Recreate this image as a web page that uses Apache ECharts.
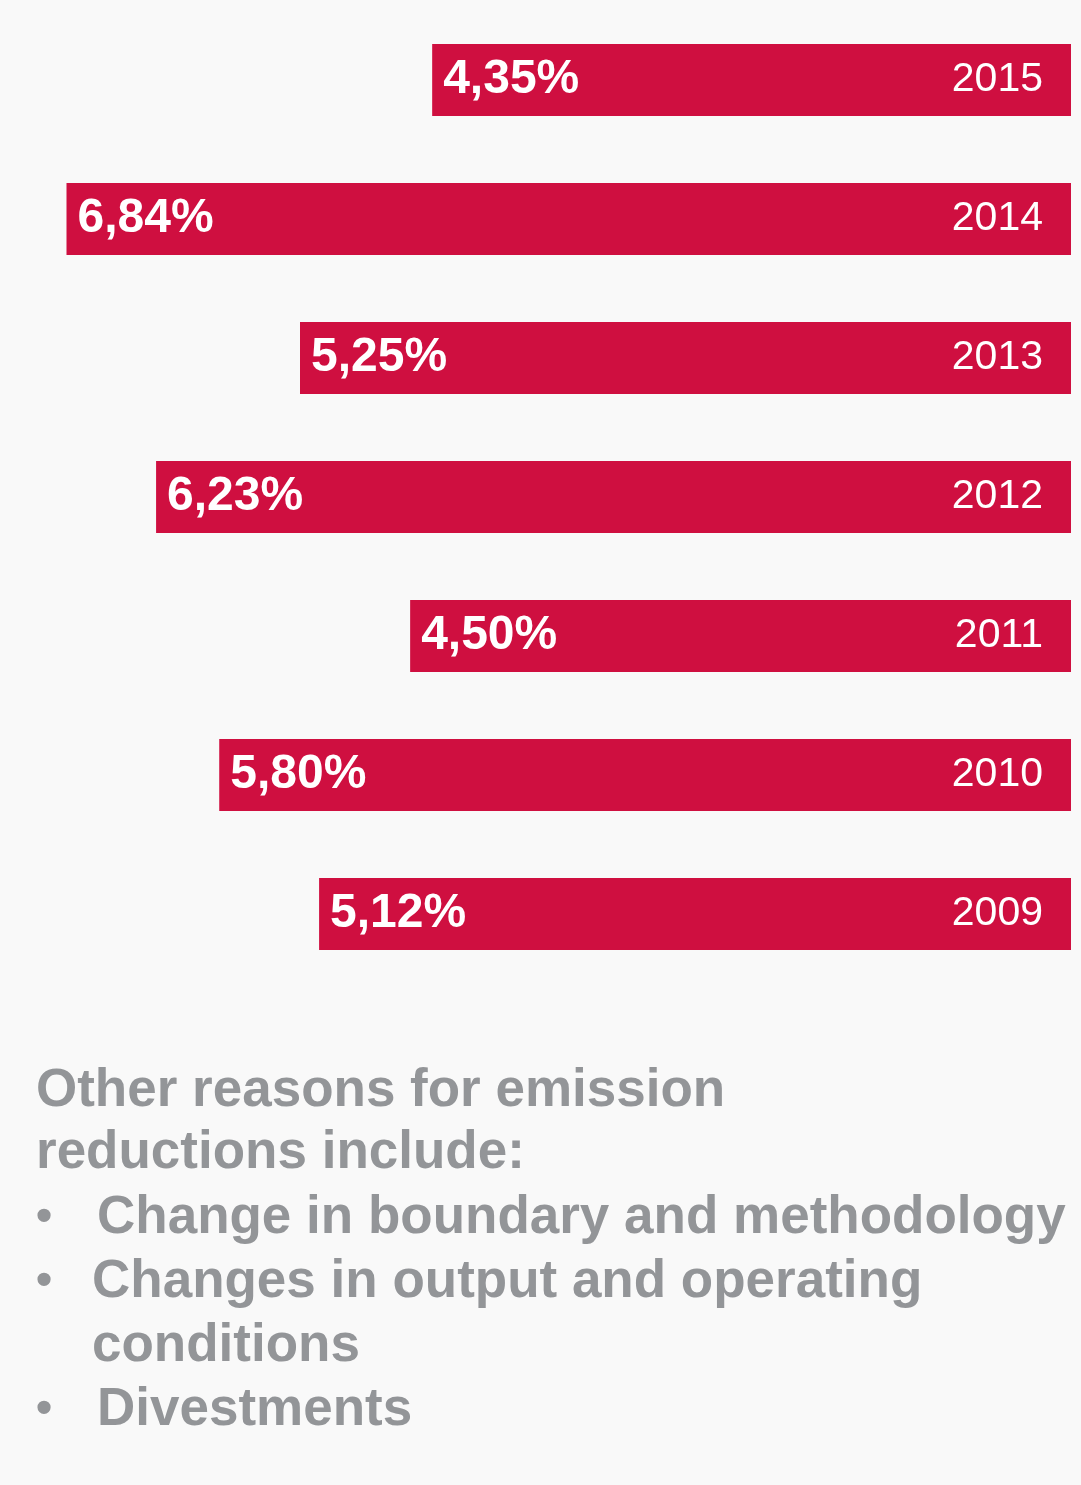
<!DOCTYPE html>
<html>
<head>
<meta charset="utf-8">
<script src="https://cdn.jsdelivr.net/npm/echarts@6/dist/echarts.min.js"></script>
<style>
  html, body { margin: 0; padding: 0; background: #f9f9f9; }
  #main { width: 1081px; height: 1485px; }
</style>
</head>
<body>
<div id="main"></div>
<script>
// years, top to bottom
const years = ['2015', '2014', '2013', '2012', '2011', '2010', '2009'];
// emission reduction, %
const reductions = [4.35, 6.84, 5.25, 6.23, 4.50, 5.80, 5.12];

const noteLines = [
  { bullet: false, x: 36, y: 1091, text: 'Other reasons for emission' },
  { bullet: false, x: 36, y: 1153, text: 'reductions include:' },
  { bullet: true, x: 97, y: 1218, text: 'Change in boundary and methodology' },
  { bullet: true, x: 92, y: 1282, text: 'Changes in output and operating' },
  { bullet: false, x: 92, y: 1346, text: 'conditions' },
  { bullet: true, x: 97, y: 1410, text: 'Divestments' },
];

const barColor = '#cf0f40';
const noteColor = '#939598';
const noteFont = 'bold 53px "Liberation Sans", Arial, sans-serif';

const graphics = [];
noteLines.forEach((line) => {
  graphics.push({
    type: 'text',
    x: line.x,
    y: line.y,
    style: { text: line.text, font: noteFont, fill: noteColor, verticalAlign: 'middle' },
  });
  if (line.bullet) {
    graphics.push({
      type: 'text',
      x: 36,
      y: line.y,
      style: { text: '•', font: 'bold 46px "Liberation Sans", Arial, sans-serif', fill: noteColor, verticalAlign: 'middle' },
    });
  }
});

const chart = echarts.init(document.getElementById('main'));
chart.setOption({
  backgroundColor: '#f9f9f9',
  animation: false,
  grid: { left: 43, right: 10, top: 10.5, height: 973 },
  xAxis: {
    type: 'value',
    min: 0,
    max: 7,
    inverse: true,
    show: false,
  },
  yAxis: {
    type: 'category',
    data: years,
    inverse: true,
    position: 'right',
    z: 10,
    axisLine: { show: false },
    axisTick: { show: false },
    axisLabel: {
      inside: true,
      margin: 28,
      color: '#ffffff',
      fontSize: 41,
      padding: [3, 0, 0, 0],
      fontFamily: '"Liberation Sans", Arial, sans-serif',
    },
  },
  series: [
    {
      type: 'bar',
      data: reductions,
      barWidth: 72,
      itemStyle: { color: barColor },
      label: {
        show: true,
        position: 'insideLeft',
        distance: 11,
        color: '#ffffff',
        fontSize: 48,
        fontWeight: 'bold',
        fontFamily: '"Liberation Sans", Arial, sans-serif',
        formatter: (p) => p.value.toFixed(2).replace('.', ',') + '%',
      },
    },
  ],
  graphic: graphics,
});
</script>
</body>
</html>
